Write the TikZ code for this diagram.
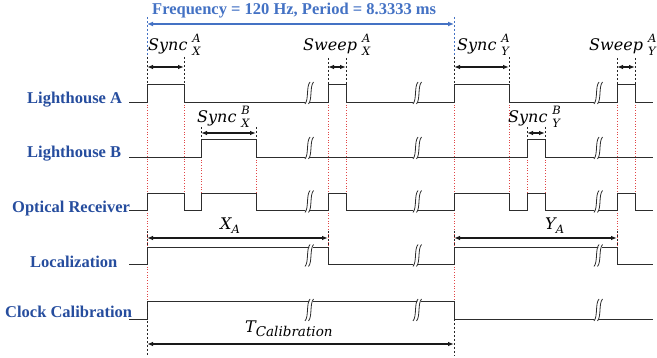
\documentclass[tikz,border=0pt]{standalone}
\usepackage{fontspec}
\setmainfont{Liberation Serif}
\newfontfamily\mlab{DejaVu Serif}
\usetikzlibrary{arrows.meta}
\definecolor{lblue}{RGB}{38,77,158}
\definecolor{fblue}{RGB}{68,114,196}
\definecolor{sig}{RGB}{45,45,45}
\definecolor{rdot}{RGB}{225,70,70}
\newcommand{\smallit}{\mlab\itshape\fontsize{11.5}{12}\selectfont}
\newcommand{\AX}[2]{\hspace{5pt}\rlap{\raisebox{8pt}{\smallit #1}}\raisebox{-5pt}{\smallit #2}}
\newcommand{\brk}[2]{%
  \fill[white] (#1-5,#2+11) -- (#1,#2-11) -- (#1+3.5,#2-11) -- (#1-1.5,#2+11) -- cycle;
  \draw[brkline] (#1-5,#2+11) .. controls (#1-1,#2+6) and (#1-4,#2-6) .. (#1,#2-11);
  \draw[brkline] (#1-1.5,#2+11) .. controls (#1+2.5,#2+6) and (#1-0.5,#2-6) .. (#1+3.5,#2-11);
}
\begin{document}
\begin{tikzpicture}[x=1pt,y=-1pt,
  sigline/.style={draw=sig,line width=0.9pt},
  reddot/.style={draw=rdot,line width=0.7pt,dotted},
  dimdash/.style={draw=black!85,line width=0.75pt,dash pattern=on 2.5pt off 1.5pt},
  bluedash/.style={draw=fblue,line width=0.75pt,dash pattern=on 2.5pt off 1.5pt},
  dimarrow/.style={draw=black!90,line width=1.1pt,{Latex[length=6pt,width=4.5pt]}-{Latex[length=6pt,width=4.5pt]}},
  freqarrow/.style={draw=fblue,line width=1.3pt,{Latex[length=6pt,width=5pt]}-{Latex[length=6pt,width=5pt]}},
  rowlabel/.style={font=\bfseries\fontsize{16.5}{18}\selectfont,text=lblue,anchor=base west,inner sep=0pt},
  mlabel/.style={font=\mlab\itshape\fontsize{16}{18}\selectfont,anchor=base west,inner sep=0pt},
  brkline/.style={draw=sig,line width=0.8pt}
]
\useasboundingbox (0,0) rectangle (657,358);

% red dotted alignment lines
\foreach \x/\a/\b in {147/102/301,184/102/193,201/157/193,256/157/193,328/102/264,346/102/193,
                      454/102/319,509/102/193,527/157/193,545/157/193,617/102/264,635/102/193}
  \draw[reddot] (\x,\a) -- (\x,\b);

% row labels
\node[rowlabel] (lha) at (27,104) {Lighthouse A};
\node[rowlabel] (lhb) at (27,158) {Lighthouse B};
\node[rowlabel] (orc) at (12,213) {Optical Receiver};
\node[rowlabel] (loc) at (30,268) {Localization};
\node[rowlabel] (clk) at (5,318) {Clock Calibration};

% signals
\draw[sigline] (129,102) -- (147,102) -- (147,84) -- (184,84) -- (184,102) -- (328,102) -- (328,84) -- (346,84) -- (346,102) -- (454,102) -- (454,84) -- (509,84) -- (509,102) -- (617,102) -- (617,84) -- (635,84) -- (635,102) -- (653,102);
\draw[sigline] (129,157) -- (201,157) -- (201,139) -- (256,139) -- (256,157) -- (527,157) -- (527,139) -- (545,139) -- (545,157) -- (653,157);
\draw[sigline] (129,210) -- (147,210) -- (147,193) -- (184,193) -- (184,210) -- (201,210) -- (201,193) -- (256,193) -- (256,210) -- (328,210) -- (328,193) -- (346,193) -- (346,210) -- (454,210) -- (454,193) -- (509,193) -- (509,210) -- (527,210) -- (527,193) -- (545,193) -- (545,210) -- (617,210) -- (617,193) -- (635,193) -- (635,210) -- (653,210);
\draw[sigline] (129,264) -- (147,264) -- (147,247) -- (328,247) -- (328,264) -- (454,264) -- (454,247) -- (617,247) -- (617,264) -- (653,264);
\draw[sigline] (129,319) -- (147,319) -- (147,301) -- (454,301) -- (454,319) -- (653,319);

% break marks
\foreach \x in {310,418,599}{
  \brk{\x}{93}
  \brk{\x}{148}
  \brk{\x}{201.5}
  \brk{\x}{255.5}
  \brk{\x}{310}
}

% frequency / period
\coordinate (f1) at (147,24);
\coordinate (f2) at (454,24);
\draw[bluedash] (147,17) -- (147,57);
\draw[bluedash] (454,17) -- (454,57);
\draw[freqarrow] (f1) -- (f2);
\node[anchor=base west,inner sep=0pt,text=fblue,font=\bfseries\fontsize{16.5}{18}\selectfont] (freq) at (152,15) {Frequency = 120 Hz, Period = 8.3333 ms};

% sync / sweep dimension marks
\foreach \x in {147,184,454,509}
  \draw[dimdash] (\x,57) -- (\x,84);
\foreach \x in {328,346,617,635}
  \draw[dimdash] (\x,58) -- (\x,84);
\foreach \x in {201,256,527,545}
  \draw[dimdash] (\x,127) -- (\x,139);
\coordinate (sa1) at (147,67); \coordinate (sa2) at (184,67);
\coordinate (sw1) at (328,67); \coordinate (sw2) at (346,67);
\coordinate (sy1) at (454,67); \coordinate (sy2) at (509,67);
\coordinate (sv1) at (617,67); \coordinate (sv2) at (635,67);
\coordinate (sb1) at (201,133); \coordinate (sb2) at (256,133);
\coordinate (sc1) at (527,133); \coordinate (sc2) at (545,133);
\draw[dimarrow] (sa1) -- (sa2);
\draw[dimarrow] (sw1) -- (sw2);
\draw[dimarrow] (sy1) -- (sy2);
\draw[dimarrow] (sv1) -- (sv2);
\draw[dimarrow] (sb1) -- (sb2);
\draw[dimarrow] (sc1) -- (sc2);

\node[mlabel] (sax) at (148,51) {Sync\AX{A}{X}};
\node[mlabel] (swax) at (303,51) {Sweep\AX{A}{X}};
\node[mlabel] (say) at (457,51) {Sync\AX{A}{Y}};
\node[mlabel] (sway) at (589,51) {Sweep\AX{A}{Y}};
\node[mlabel] (sbx) at (197,123) {Sync\AX{B}{X}};
\node[mlabel] (sby) at (508,123) {Sync\AX{B}{Y}};

% localization dimensions
\foreach \x in {147,328,454,617}
  \draw[dimdash] (\x,231) -- (\x,247);
\coordinate (xa1) at (147,238); \coordinate (xa2) at (328,238);
\coordinate (ya1) at (454,238); \coordinate (ya2) at (617,238);
\draw[dimarrow] (xa1) -- (xa2);
\draw[dimarrow] (ya1) -- (ya2);
\node[mlabel] (xa) at (220,230) {X\raisebox{-4pt}{\smallit A}};
\node[mlabel] (ya) at (545,230) {Y\raisebox{-4pt}{\smallit A}};

% calibration period
\draw[dimdash] (147,301) -- (147,356);
\draw[dimdash] (454,319) -- (454,356);
\coordinate (tc1) at (147,344); \coordinate (tc2) at (454,344);
\draw[dimarrow] (tc1) -- (tc2);
\node[mlabel] (tc) at (245,333) {T\raisebox{-4pt}{\mlab\itshape\fontsize{13.5}{14}\selectfont Calibration}};
\end{tikzpicture}
\end{document}
